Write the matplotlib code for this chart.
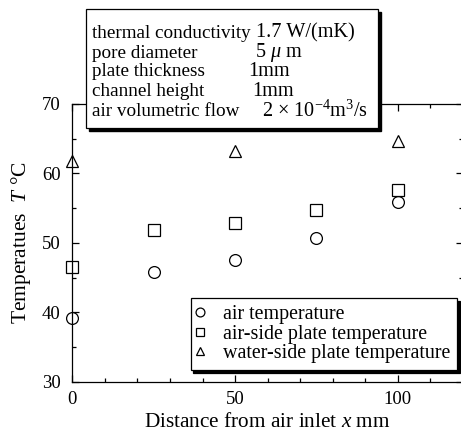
import matplotlib
matplotlib.use("Agg")
import matplotlib.pyplot as plt
from matplotlib.patches import Rectangle
from matplotlib.ticker import MultipleLocator

plt.rcParams["font.family"] = ["Liberation Serif", "DejaVu Serif"]
plt.rcParams["mathtext.fontset"] = "custom"
plt.rcParams["mathtext.rm"] = "Liberation Serif"
plt.rcParams["mathtext.it"] = "Liberation Serif:italic"

# data
x_air = [0, 25, 50, 75, 100]
t_air = [39.2, 45.8, 47.5, 50.7, 55.9]
x_plate_air = [0, 25, 50, 75, 100]
t_plate_air = [46.5, 51.8, 52.8, 54.7, 57.6]
x_plate_water = [0, 50, 100]
t_plate_water = [61.8, 63.2, 64.7]

cond_labels = ["thermal conductivity", "pore diameter", "plate thickness",
               "channel height", "air volumetric flow"]
cond_values = ["1.7 W/(mK)", r"5 $\mu$ m", "1mm", "1mm",
               r"2 $\times$ 10$^{-4}$m$^3$/s"]

fig = plt.figure(figsize=(4.61, 4.32), dpi=100)
ax = fig.add_axes([0.157, 0.1164, 0.847, 0.643])

mk = dict(linestyle="none", markerfacecolor="white", markeredgecolor="black",
          markeredgewidth=0.9, markersize=8.5, clip_on=False)
ax.plot(x_air, t_air, marker="o", label="air temperature", **mk)
ax.plot(x_plate_air, t_plate_air, marker="s", label="air-side plate temperature", **mk)
ax.plot(x_plate_water, t_plate_water, marker="^", label="water-side plate temperature", **mk)

ax.set_xlim(0, 120)
ax.set_ylim(30, 70)
ax.xaxis.set_major_locator(MultipleLocator(50))
ax.xaxis.set_minor_locator(MultipleLocator(10))
ax.yaxis.set_major_locator(MultipleLocator(10))
ax.yaxis.set_minor_locator(MultipleLocator(5))
ax.tick_params(which="both", direction="in", top=True, right=True,
               labelsize=13.5, width=0.9)
ax.tick_params(axis="x", which="both", pad=7)
ax.tick_params(axis="y", which="both", pad=8.5)
ax.tick_params(which="major", length=5)
ax.tick_params(which="minor", length=3)
for s in ax.spines.values():
    s.set_linewidth(0.9)

ax.set_xlabel(r"Distance from air inlet $x$ mm", fontsize=15.3, labelpad=3)
ax.set_ylabel(r"Temperatues  $T$ °C", fontsize=15.5, labelpad=6)

leg = ax.legend(loc="lower left", bbox_to_anchor=(0.303, 0.042),
                borderaxespad=0, fontsize=14.4, fancybox=False,
                edgecolor="black", framealpha=1, markerscale=0.75,
                shadow={"color": "black", "alpha": 1},
                handlelength=0.25, handletextpad=1.0, labelspacing=0.02,
                borderpad=0.35)
leg.get_frame().set_linewidth(0.9)

# conditions box drawn in figure pixels
W, H = 461.0, 432.0
bx0, by0, bx1, by1 = 85.7, 9.3, 377.7, 128.3
fig.patches.append(Rectangle(((bx0 + 3) / W, 1 - (by1 + 3) / H),
                             (bx1 - bx0) / W, (by1 - by0) / H,
                             transform=fig.transFigure, facecolor="black",
                             edgecolor="black", zorder=5))
fig.patches.append(Rectangle((bx0 / W, 1 - by1 / H),
                             (bx1 - bx0) / W, (by1 - by0) / H,
                             transform=fig.transFigure, facecolor="white",
                             edgecolor="black", linewidth=0.9, zorder=6))
line_y = [33, 53, 72, 91.5, 111.5]
value_x = [256, 255, 248, 252, 262]
for lab, val, yy, vx in zip(cond_labels, cond_values, line_y, value_x):
    fig.text(92.5 / W, 1 - yy / H, lab, fontsize=13.8, va="center", ha="left", zorder=7)
    fig.text(vx / W, 1 - yy / H, val, fontsize=14.6, va="center", ha="left", zorder=7)

fig.savefig("out.png", dpi=100)
